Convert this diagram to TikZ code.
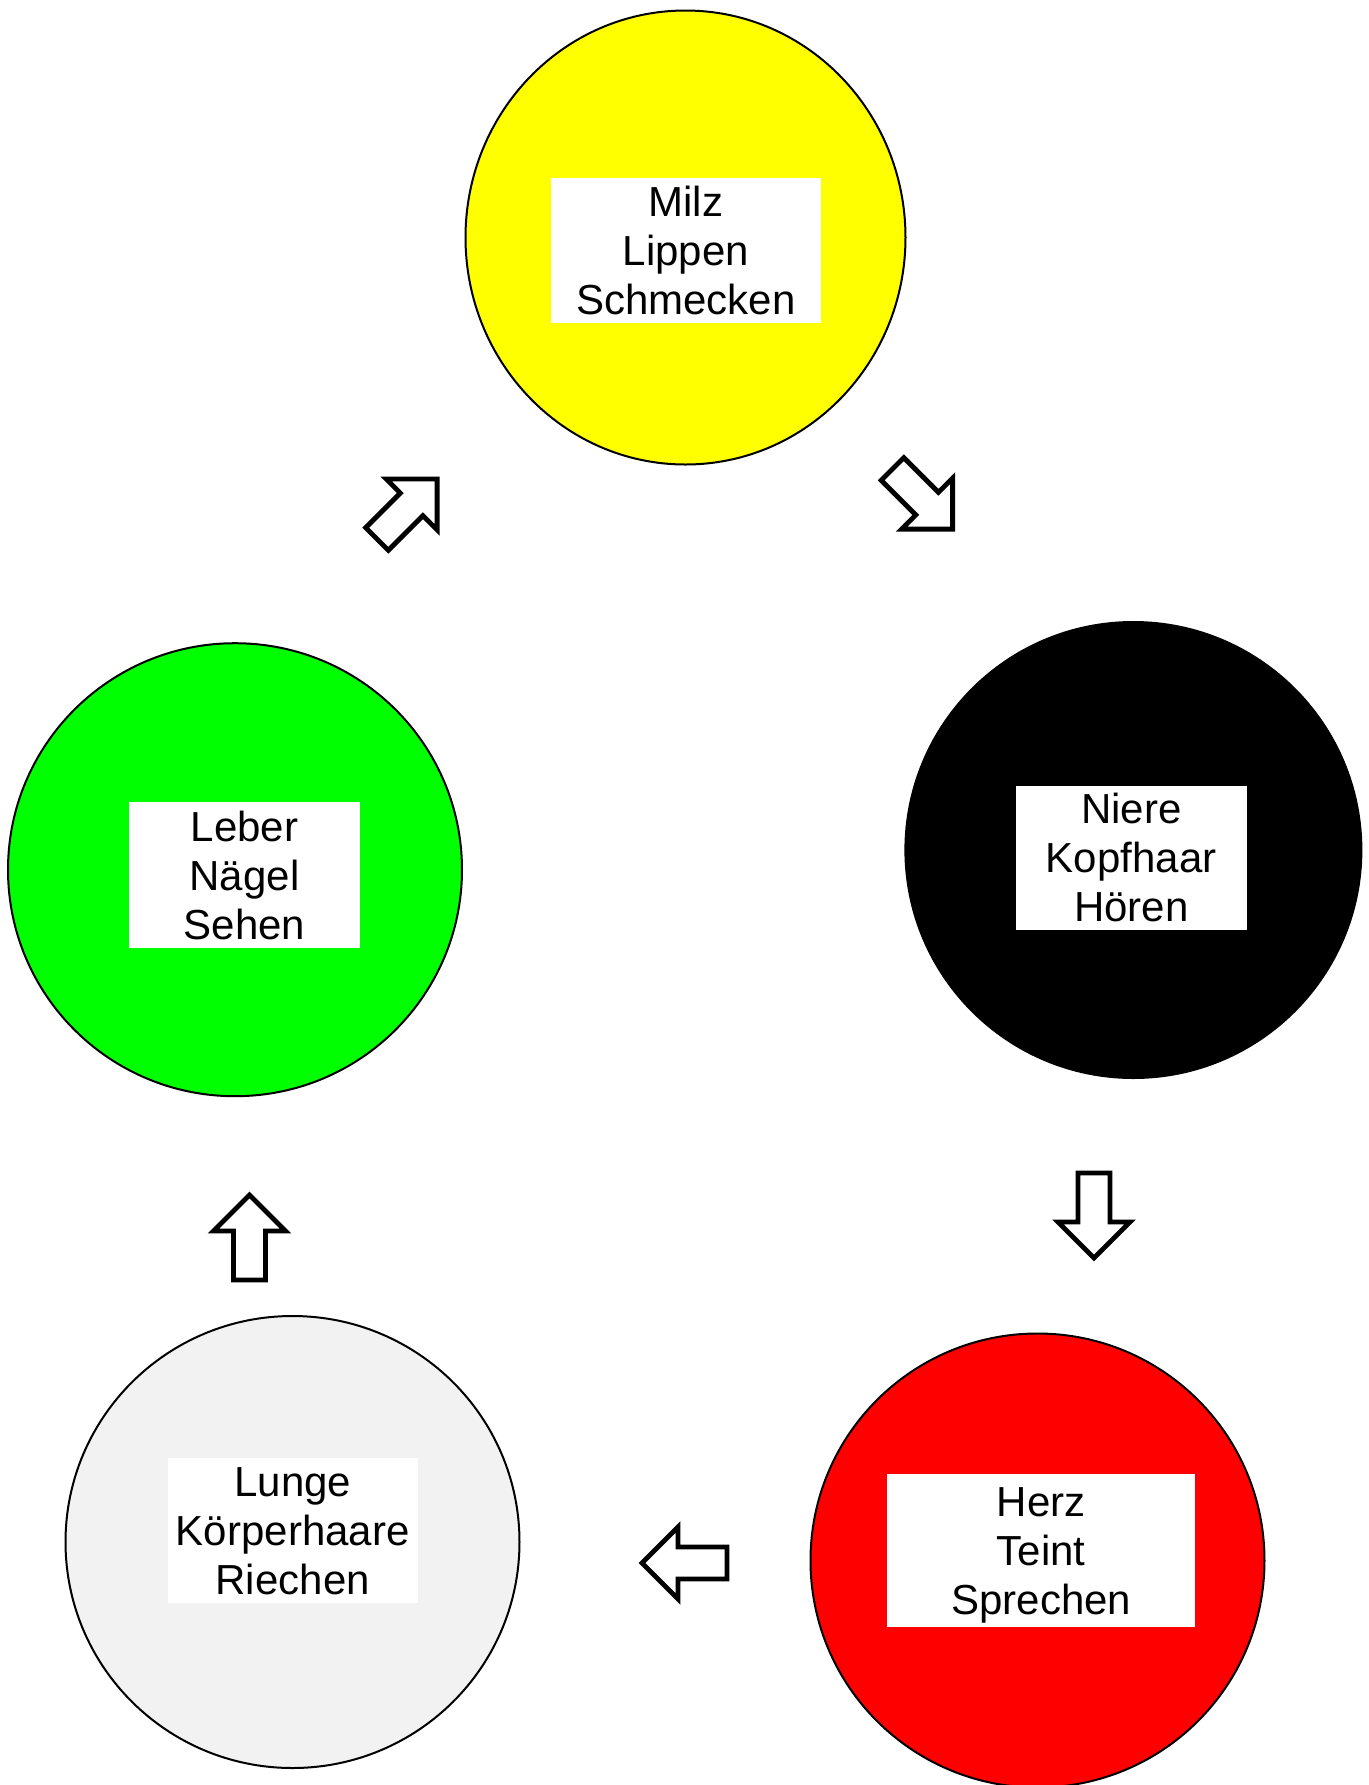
\documentclass[tikz,border=0pt]{standalone}
\usepackage{fontspec}
\setmainfont{Liberation Sans}
\usetikzlibrary{shapes.geometric}
\definecolor{lungegray}{HTML}{F2F2F2}
\definecolor{leafgreen}{HTML}{00FF00}
\definecolor{pureyellow}{HTML}{FFFF00}
\definecolor{purered}{HTML}{FF0000}
\tikzset{
  organ/.style={ellipse, draw=black, line width=1pt, inner sep=0pt},
  labelbox/.style={fill=white, inner sep=0pt, align=center, font=\fontsize{21}{24.5}\selectfont},
  arrowline/.style={draw=black, fill=white, line width=2.4pt, line join=miter},
  blockarrow/.pic={\path[arrowline] (0,-16) -- (49,-16) -- (49,-36) -- (85,0) -- (49,36) -- (49,16) -- (0,16) -- cycle;}
}
\newcommand\hiTop{\rule{0pt}{19pt}}
\newcommand\loBot{\rule[-4pt]{0pt}{4pt}}
\begin{document}
\begin{tikzpicture}[x=0.5pt,y=-0.5pt]
\useasboundingbox (0,0) rectangle (1369,1785);
\clip (0,0) rectangle (1369,1785);

% circles
\node[organ, fill=pureyellow, minimum width=220pt, minimum height=227pt] (milz) at (685.5,237.5) {};
\node[organ, fill=black, minimum width=228pt, minimum height=228pt] (niere) at (1133.4,850) {};
\node[organ, fill=purered, minimum width=227pt, minimum height=227pt] (herz) at (1037.5,1560.5) {};
\node[organ, fill=lungegray, minimum width=227pt, minimum height=226pt] (lunge) at (292.5,1542) {};
\node[organ, fill=leafgreen, minimum width=227pt, minimum height=226.5pt] (leber) at (235,869.7) {};

% labels
\node[labelbox, minimum width=135pt, minimum height=72.5pt] (milzlabel) at (686,250.5) {\hiTop Milz\\Lippen\\Schmecken\loBot};
\node[labelbox, minimum width=115.5pt, minimum height=71.5pt] (nierelabel) at (1131.2,857.7) {\hiTop Niere\\Kopfhaar\\Hören\loBot};
\node[labelbox, minimum width=154pt, minimum height=76.5pt] (herzlabel) at (1041.2,1550.7) {\hiTop Herz\\Teint\\Sprechen\loBot};
\node[labelbox, minimum width=125pt, minimum height=72.5pt] (lungelabel) at (292.7,1530.5) {\hiTop Lunge\\Körperhaare\\Riechen\loBot};
\node[labelbox, minimum width=115.5pt, minimum height=73pt] (leberlabel) at (244.5,875.3) {\hiTop Leber\\Nägel\\Sehen\loBot};

% block arrows
\pic[rotate=-45] at (892.5,469) {blockarrow};
\pic[rotate=-90] at (1094,1173) {blockarrow};
\pic[rotate=180] at (727,1563) {blockarrow};
\pic[rotate=90] at (249.5,1280) {blockarrow};
\pic[rotate=45] at (377,539) {blockarrow};
\end{tikzpicture}
\end{document}
